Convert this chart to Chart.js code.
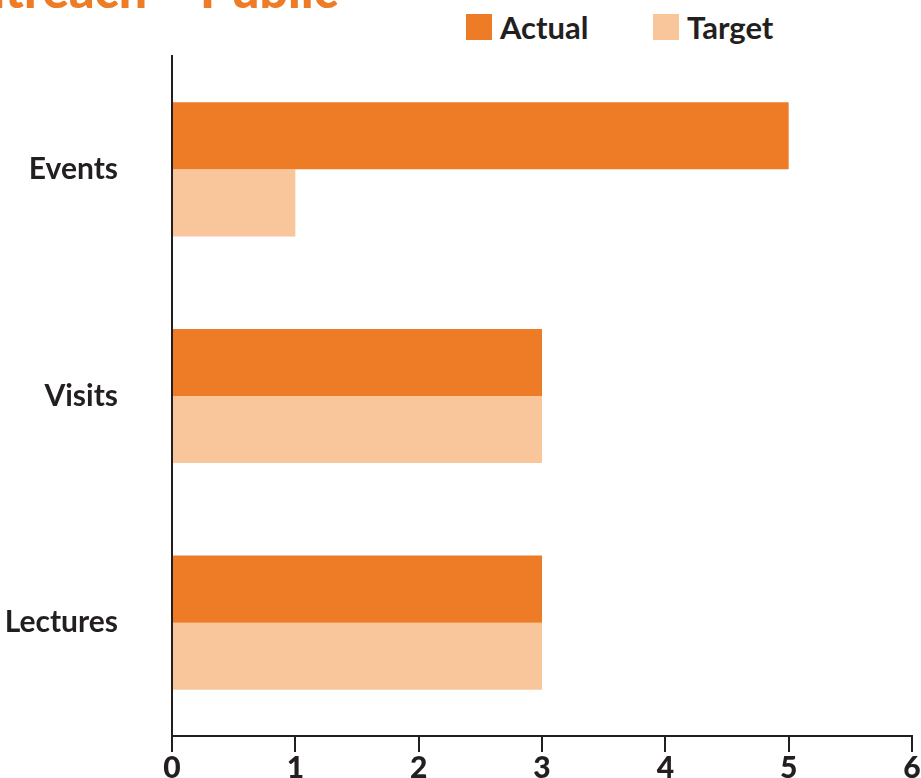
<!DOCTYPE html>
<html>
<head>
<meta charset="utf-8">
<script src="https://cdn.jsdelivr.net/npm/chart.js@4.4.1/dist/chart.umd.min.js"></script>
<style>
    html, body { margin: 0; padding: 0; width: 921px; height: 778px; overflow: hidden; background: #fff; }
    #title {
        position: absolute; right: 583px; top: -36px;
        font: 900 50px Lato, sans-serif; line-height: 50px;
        color: #EE7C26; white-space: nowrap;
    }
    #legend { position: absolute; left: 466px; top: 14px; display: flex; }
    #legend .item { display: flex; align-items: center; height: 26px; width: 187px; }
    #legend .item:last-child { width: auto; }
    #legend .box { width: 26px; height: 26px; margin-right: 8px; }
    #legend .txt { font: 700 31px Lato, sans-serif; color: #231f20; line-height: 26px; }
    #wrap { position: absolute; left: 0; top: 0; width: 921px; height: 810px; }
</style>
</head>
<body>
<div id="title">Outreach – Public</div>
<div id="legend"></div>
<div id="wrap"><canvas id="outreachChart"></canvas></div>
<script>
// --- data ---
const categories = ['Events', 'Visits', 'Lectures'];
const actualValues = [5, 3, 3];
const targetValues = [1, 3, 3];
const seriesNames = ['Actual', 'Target'];
const seriesColors = ['#EE7C26', '#F9C69B'];
const xTicks = [0, 1, 2, 3, 4, 5, 6];

const ink = '#231f20';

const chart = new Chart(document.getElementById('outreachChart'), {
    type: 'bar',
    data: {
        labels: categories,
        datasets: [
            { label: seriesNames[0], data: actualValues, backgroundColor: seriesColors[0] },
            { label: seriesNames[1], data: targetValues, backgroundColor: seriesColors[1] }
        ]
    },
    options: {
        indexAxis: 'y',
        responsive: true,
        maintainAspectRatio: false,
        animation: false,
        datasets: { bar: { categoryPercentage: 0.592, barPercentage: 1.0 } },
        layout: { padding: { top: 56, right: 9, left: 0, bottom: 0 } },
        plugins: {
            legend: { display: false },
            title: { display: false },
            tooltip: { enabled: false }
        },
        scales: {
            x: {
                min: xTicks[0],
                max: xTicks[xTicks.length - 1],
                afterBuildTicks: s => { s.ticks = xTicks.map(v => ({ value: v })); },
                afterFit: s => { s.height = 74; },
                ticks: { color: ink, font: { family: 'Lato', weight: '900', size: 30 }, padding: -2, maxRotation: 0 },
                grid: { drawOnChartArea: false, drawTicks: true, tickLength: 16, lineWidth: 2, color: ink },
                border: { display: true, width: 2, color: ink }
            },
            y: {
                afterFit: s => { s.width = 172; },
                ticks: { color: ink, font: { family: 'Lato', weight: 'bold', size: 30 }, padding: 0 },
                // hidden tick marks, only used as the gap between labels and axis
                grid: { display: false, drawTicks: true, tickLength: 54 },
                border: { display: true, width: 2, color: ink }
            }
        }
    }
});

// html legend built from the datasets
const legend = document.getElementById('legend');
chart.data.datasets.forEach(ds => {
    const item = document.createElement('div');
    item.className = 'item';
    item.innerHTML = '<span class="box" style="background:' + ds.backgroundColor + '"></span><span class="txt">' + ds.label + '</span>';
    legend.appendChild(item);
});
</script>
</body>
</html>
